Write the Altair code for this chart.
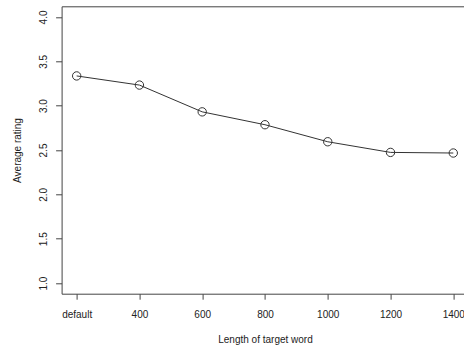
import altair as alt
import pandas as pd

categories = ["default", "400", "600", "800", "1000", "1200", "1400"]
ratings = [3.335, 3.232, 2.93, 2.785, 2.593, 2.473, 2.466]
y_ticks = [1.0, 1.5, 2.0, 2.5, 3.0, 3.5, 4.0]

df = pd.DataFrame({
    "idx": list(range(1, len(categories) + 1)),
    "category": categories,
    "rating": ratings,
})

label_list = "[" + ",".join("'" + c + "'" for c in categories) + "]"

W = 402.4
H = 287.4
TEXT = "#222222"
AXC = "#444444"

x_scale = alt.Scale(domain=[0.76, 0.76 + W / 62.77], nice=False, zero=False)
y_scale = alt.Scale(domain=[0.88, 4.12], nice=False, zero=False)

x_bottom = alt.X(
    "idx:Q", scale=x_scale,
    axis=alt.Axis(
        orient="bottom", values=list(range(1, len(categories) + 1)),
        labelExpr=label_list + "[datum.value - 1]",
        title="Length of target word", grid=False,
        tickSize=5.5, labelPadding=18, labelBaseline="alphabetic",
        labelFontSize=10, labelFont="Liberation Sans", labelColor=TEXT,
        titleFontSize=10, titleFont="Liberation Sans", titleColor=TEXT,
        titleFontWeight="normal", titleX=203.4, titleY=48.6,
        titleBaseline="alphabetic", titleAlign="center",
        domainColor=AXC, tickColor=AXC, labelFlush=False, labelOverlap=False,
    ),
)

y_left = alt.Y(
    "rating:Q", scale=y_scale,
    axis=alt.Axis(
        orient="left", values=y_ticks, format=".1f",
        title="Average rating", grid=False,
        tickSize=6, labelPadding=9, labelAngle=-90,
        labelAlign="center", labelBaseline="alphabetic",
        labelFontSize=10, labelFont="Liberation Sans", labelColor=TEXT,
        titleFontSize=10, titleFont="Liberation Sans", titleColor=TEXT,
        titleFontWeight="normal", titleAngle=-90, titleX=-41.6, titleY=143.7,
        titleBaseline="alphabetic", titleAlign="center",
        domainColor=AXC, tickColor=AXC, labelFlush=False, labelOverlap=False,
    ),
)

points = alt.Chart(df).mark_point(
    shape="circle", filled=False, size=70, stroke="#333333", strokeWidth=1, opacity=1
).encode(x=x_bottom, y=y_left)

line = alt.Chart(df).mark_line(color="#333333", strokeWidth=1).encode(
    x=alt.X("idx:Q", scale=x_scale,
            axis=alt.Axis(orient="top", labels=False, ticks=False, grid=False,
                          title="", domainColor=AXC)),
    y=alt.Y("rating:Q", scale=y_scale),
)

chart = alt.layer(line, points).properties(
    width=W, height=H,
    autosize=alt.AutoSizeParams(type="none"),
    padding={"left": 61.6, "top": 6.3, "right": 0, "bottom": 53.3},
    background="white",
).configure_view(stroke=None)

chart.save("out.html", embed_options={"renderer": "svg", "actions": False})
